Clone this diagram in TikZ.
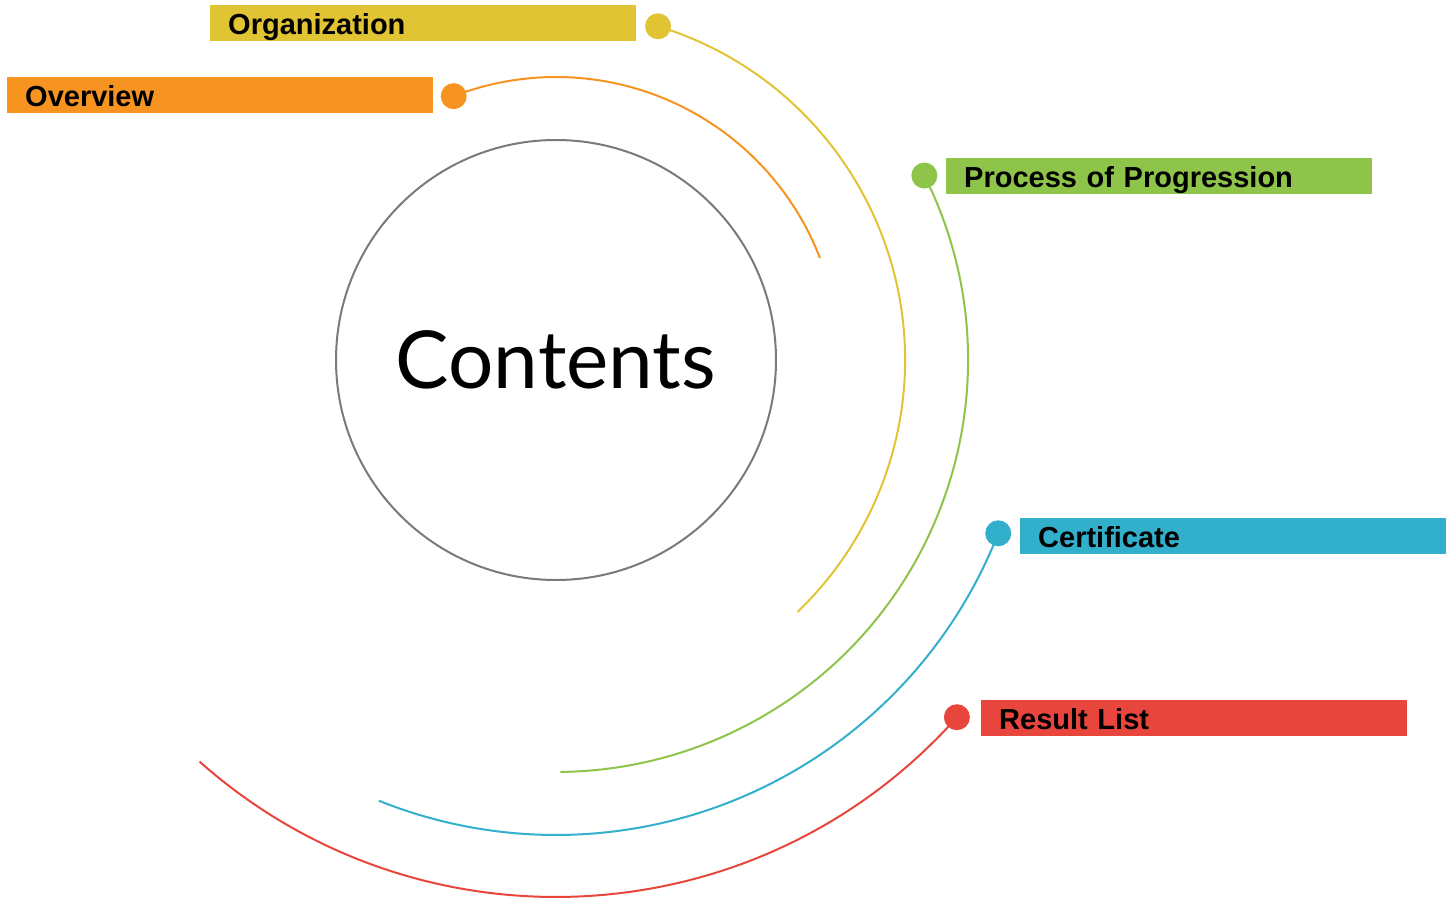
\documentclass[tikz,border=0pt]{standalone}
\usepackage{fontspec}
\usetikzlibrary{calc}
\setmainfont{Liberation Sans}
\newfontfamily\titlefont{Lato}
\definecolor{cyel}{HTML}{E0C434}
\definecolor{cora}{HTML}{F79421}
\definecolor{cgrn}{HTML}{8DC449}
\definecolor{cblu}{HTML}{32AFCB}
\definecolor{cred}{HTML}{E8463C}
\definecolor{cgry}{HTML}{7A7A7A}
\begin{document}
\begin{tikzpicture}[x=1pt,y=-1pt,
  arcline/.style={line width=2pt},
  dotnode/.style={circle,inner sep=0pt,minimum size=26pt},
  labelbox/.style={rectangle,anchor=north west,minimum height=36pt,text width=390pt,
    text height=23pt,text depth=0pt,
    inner xsep=18pt,inner ysep=0pt,align=left,
    font=\fontsize{29}{29}\selectfont\bfseries,text=black}]
\useasboundingbox (0,0) rectangle (1447,904);
\coordinate (C) at (556,360);
% center circle
\node[circle,draw=cgry,line width=2pt,minimum size=440pt,inner sep=0pt,
  font=\titlefont\fontsize{80}{80}\selectfont] (contents) at (C) {Contents};
% labels
\node[labelbox,fill=cyel] (lorg) at (210,5) {Organization};
\node[labelbox,fill=cora] (lov) at (7,77) {Overview};
\node[labelbox,fill=cgrn] (lproc) at (946,158) {Process of Progression};
\node[labelbox,fill=cblu] (lcert) at (1020,518) {Certificate};
\node[labelbox,fill=cred] (lres) at (981,700) {Result List};
% dots
\node[dotnode,fill=cora] (dov) at ($(C)+(-111.2:283)$) {};
\node[dotnode,fill=cyel] (dorg) at ($(C)+(-73:349)$) {};
\node[dotnode,fill=cgrn] (dproc) at ($(C)+(-26.6:412)$) {};
\node[dotnode,fill=cblu] (dcert) at ($(C)+(21.4:475)$) {};
\node[dotnode,fill=cred] (dres) at ($(C)+(41.7:537)$) {};
% arcs
\draw[arcline,cora] (dov.center) arc[start angle=-111.2,end angle=-21.1,radius=283];
\draw[arcline,cyel] (dorg.center) arc[start angle=-73,end angle=46.2,radius=349];
\draw[arcline,cgrn] (dproc.center) arc[start angle=-26.6,end angle=89.4,radius=412];
\draw[arcline,cblu] (dcert.center) arc[start angle=21.4,end angle=111.9,radius=475];
\draw[arcline,cred] (dres.center) arc[start angle=41.7,end angle=131.6,radius=537];
\end{tikzpicture}
\end{document}
